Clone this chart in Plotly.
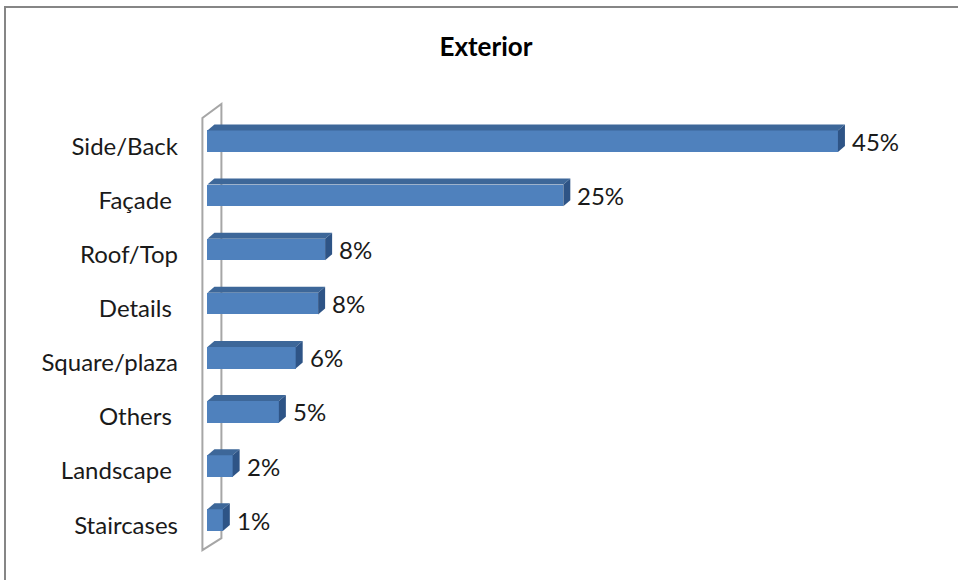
import plotly.graph_objects as go

# ---- data ----
categories = ["Side/Back", "Façade", "Roof/Top", "Details", "Square/plaza", "Others", "Landscape", "Staircases"]
values = [45.0, 25.4, 8.4, 7.9, 6.3, 5.1, 1.8, 1.1]
value_labels = ["45%", "25%", "8%", "8%", "6%", "5%", "2%", "1%"]
tick_labels = ["Side/Back", "Façade\u00a0", "Roof/Top", "Details\u00a0", "Square/plaza", "Others\u00a0", "Landscape\u00a0", "Staircases"]
title_text = "Exterior"

# ---- layout constants ----
W, H = 958, 580
L, R, T, B = 199, 50, 98, 22
XR = [-0.6, 50]
YR = [-0.7, 7.8]
PW = W - L - R
PH = H - T - B
px_per_x = PW / (XR[1] - XR[0])
px_per_y = PH / (YR[1] - YR[0])

BAR_W = 0.4
DEPTH_X = 7   # px
DEPTH_Y = 6   # px
FRONT = "#4F81BD"
TOP = "#3D6799"
SIDE = "#2E5486"
FONT = "Lato"

n = len(categories)
ypos = [n - 1 - i for i in range(n)]

fig = go.Figure()
fig.add_trace(go.Bar(
    x=values, y=ypos, orientation="h", width=BAR_W,
    marker=dict(color=FRONT, line=dict(width=0)),
    hoverinfo="skip",
))

shapes = []
half = BAR_W / 2 * px_per_y
ddx = DEPTH_X / px_per_x
for v, y in zip(values, ypos):
    # top face
    shapes.append(dict(
        type="path", xref="x", yref="y", ysizemode="pixel", yanchor=y,
        path=f"M 0,{half} L {v},{half} L {v + ddx},{half + DEPTH_Y} L {ddx},{half + DEPTH_Y} Z",
        fillcolor=TOP, line=dict(width=0), layer="above",
    ))
    # side face
    shapes.append(dict(
        type="path", xref="x", yref="y", xsizemode="pixel", xanchor=v,
        ysizemode="pixel", yanchor=y,
        path=f"M 0,{-half} L 0,{half} L {DEPTH_X},{half + DEPTH_Y} L {DEPTH_X},{-half + DEPTH_Y} Z",
        fillcolor=SIDE, line=dict(width=0), layer="above",
    ))

# wall at x = 0
shapes.append(dict(
    type="path", xref="x", yref="y", xsizemode="pixel", xanchor=0,
    path="M -5,-0.555 L -5,7.43 L 14,7.69 L 14,-0.333 Z",
    fillcolor="rgba(0,0,0,0)", line=dict(color="#A6A6A6", width=2), layer="below",
))

# chart border (extends past right/bottom edges)
def px2paper_x(px):
    return (px - L) / PW

def px2paper_y(py):
    return (H - B - py) / PH

shapes.append(dict(
    type="rect", xref="paper", yref="paper",
    x0=px2paper_x(5), x1=px2paper_x(990), y0=px2paper_y(620), y1=px2paper_y(7),
    line=dict(color="#868686", width=2), fillcolor="rgba(0,0,0,0)", layer="below",
))

annotations = []
for v, y, t in zip(values, ypos, value_labels):
    annotations.append(dict(
        x=v, y=y, xref="x", yref="y", text=t, showarrow=False,
        xanchor="left", yanchor="middle", xshift=12, yshift=0,
        font=dict(family=FONT, size=24, color="#1a1a1a"),
    ))

fig.update_layout(
    width=W, height=H,
    margin=dict(l=L, r=R, t=T, b=B, pad=0),
    paper_bgcolor="white", plot_bgcolor="white",
    showlegend=False,
    bargap=0,
    title=dict(
        text=f"<b>{title_text}</b>", xref="container", yref="container",
        x=486 / W, y=1 - 47 / H, xanchor="center", yanchor="middle",
        font=dict(family=FONT, size=26, color="#000000"),
    ),
    xaxis=dict(range=XR, visible=False, fixedrange=True),
    yaxis=dict(
        range=YR, tickmode="array", tickvals=ypos, ticktext=tick_labels,
        showgrid=False, zeroline=False, showline=False, ticks="",
        ticklabelstandoff=20, ticklabelshift=5,
        tickfont=dict(family=FONT, size=24, color="#1a1a1a"),
        fixedrange=True,
    ),
    shapes=shapes,
    annotations=annotations,
)

fig.write_html("out.html")
